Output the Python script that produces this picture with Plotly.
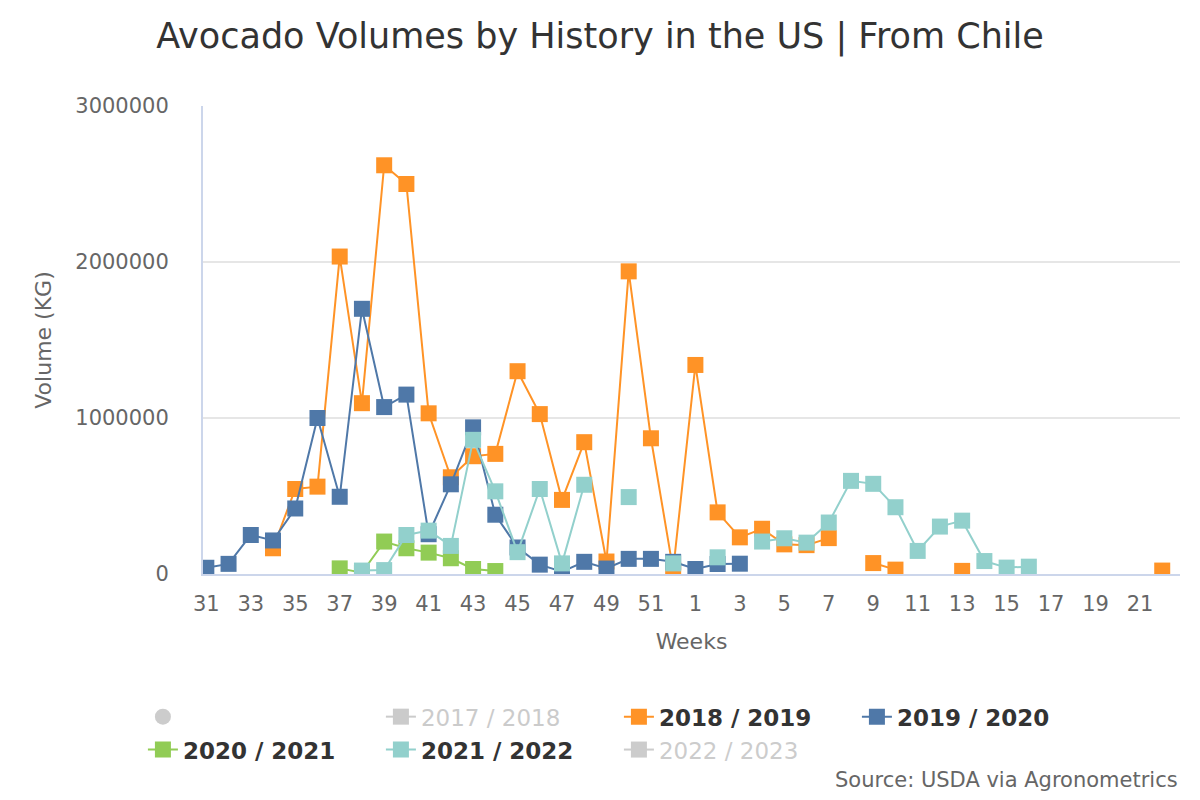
import plotly.graph_objects as go

# week labels of the season, 31 .. 52 then 1 .. 22
weeks = [str(w) for w in list(range(31, 53)) + list(range(1, 23))]
N = None

vol_2018_2019 = [N, N, N, 165000, 545000, 560000, 2035000, 1095000, 2620000, 2500000,
                 1030000, 620000, 755000, 770000, 1300000, 1025000, 475000, 845000, 80000, 1940000,
                 870000, 25000, 1340000, 395000, 235000, 290000, 190000, 185000, 230000, N,
                 70000, 28000, N, N, 20000, N, N, N, N, N,
                 N, N, N, 22000]
vol_2019_2020 = [40000, 65000, 250000, 215000, 420000, 1000000, 495000, 1700000, 1070000, 1150000,
                 255000, 575000, 940000, 380000, 170000, 60000, 15000, 78000, 35000, 97000,
                 97000, 78000, 32000, 64000, 66000] + [N] * 19
vol_2020_2021 = [N, N, N, N, N, N, 36000, 8000, 208000, 165000,
                 137000, 101000, 32000, 19000] + [N] * 30
vol_2021_2022 = [N, N, N, N, N, N, N, 22000, 25000, 250000,
                 278000, 180000, 860000, 530000, 140000, 545000, 68000, 572000, N, 493000,
                 N, 68000, N, 107000, N, 208000, 229000, 201000, 330000, 597000,
                 578000, 428000, 148000, 304000, 342000, 83000, 41000, 47000] + [N] * 6

series = [
    ("2018 / 2019", vol_2018_2019, "#FF9326"),
    ("2019 / 2020", vol_2019_2020, "#4F78A8"),
    ("2020 / 2021", vol_2020_2021, "#91CC55"),
    ("2021 / 2022", vol_2021_2022, "#92D0CC"),
]
hidden = ["2017 / 2018", "2022 / 2023"]

FONT = "DejaVu Sans"
W, H = 1192, 792  # page body keeps an 8px margin
fig = go.Figure()

def greyed(name, rank):
    return go.Scatter(x=[weeks[0]], y=[0], mode="lines+markers",
                      name="<span style='color:#999999'>" + name + "</span>",
                      line=dict(color="#999999", width=2),
                      marker=dict(symbol="square", size=16, color="#999999"),
                      visible="legendonly", legendrank=rank)

# greyed-out legend entries (series switched off)
fig.add_trace(go.Scatter(x=[weeks[0]], y=[0], mode="markers", name=" ",
                         marker=dict(symbol="circle", size=16, color="#999999"),
                         visible="legendonly", legendrank=1))
fig.add_trace(greyed(hidden[0], 2))

rank = 3
for name, vals, col in series:
    fig.add_trace(go.Scatter(x=weeks, y=vals, mode="lines+markers", name="<b>" + name + "</b>",
                             line=dict(color=col, width=2),
                             marker=dict(symbol="square", size=16, color=col),
                             connectgaps=False, legendrank=rank))
    rank += 1
    if name == "2021 / 2022":
        fig.add_trace(greyed(hidden[1], rank))
        rank += 1

fig.update_layout(
    width=W, height=H,
    margin=dict(l=195, r=20, t=98, b=226),
    paper_bgcolor="white", plot_bgcolor="white",
    font=dict(family=FONT, color="#666666", size=21),
    title=dict(text="Avocado Volumes by History in the US | From Chile",
               x=592 / W, xref="container", xanchor="center",
               y=1 - 28 / H, yref="container", yanchor="middle",
               font=dict(family=FONT, size=35, color="#333333")),
    xaxis=dict(type="category", categoryorder="array", categoryarray=weeks,
               range=[-0.15, 43.8], tick0=0, dtick=2,
               showgrid=False, showline=True, linecolor="#ccd6eb", linewidth=2,
               ticks="", ticklabelstandoff=10, tickfont=dict(size=21, color="#666666"),
               title=dict(text="Weeks", font=dict(size=22, color="#666666"), standoff=18),
               zeroline=False, automargin=False),
    yaxis=dict(range=[0, 3000000], tickvals=[0, 1000000, 2000000, 3000000], tickformat="d",
               showgrid=True, gridcolor="#e6e6e6", gridwidth=2,
               showline=True, linecolor="#ccd6eb", linewidth=2,
               ticks="", ticklabelstandoff=28, tickfont=dict(size=21, color="#666666"),
               title=dict(text="Volume (KG)", font=dict(size=22, color="#666666"), standoff=18),
               zeroline=False, automargin=False),
    legend=dict(orientation="h", x=-0.0615, xanchor="left",
                y=-0.259, yanchor="top",
                entrywidth=193, entrywidthmode="pixels", traceorder="normal",
                font=dict(family=FONT, size=23, color="#333333"),
                itemclick=False, itemdoubleclick=False),
    showlegend=True,
)

fig.add_annotation(text="Source: USDA via Agronometrics", xref="paper", yref="paper",
                   x=1, y=(574 - 780) / 468, xanchor="right", yanchor="middle",
                   showarrow=False, font=dict(family=FONT, size=21, color="#666666"))

fig.write_html("out.html")
